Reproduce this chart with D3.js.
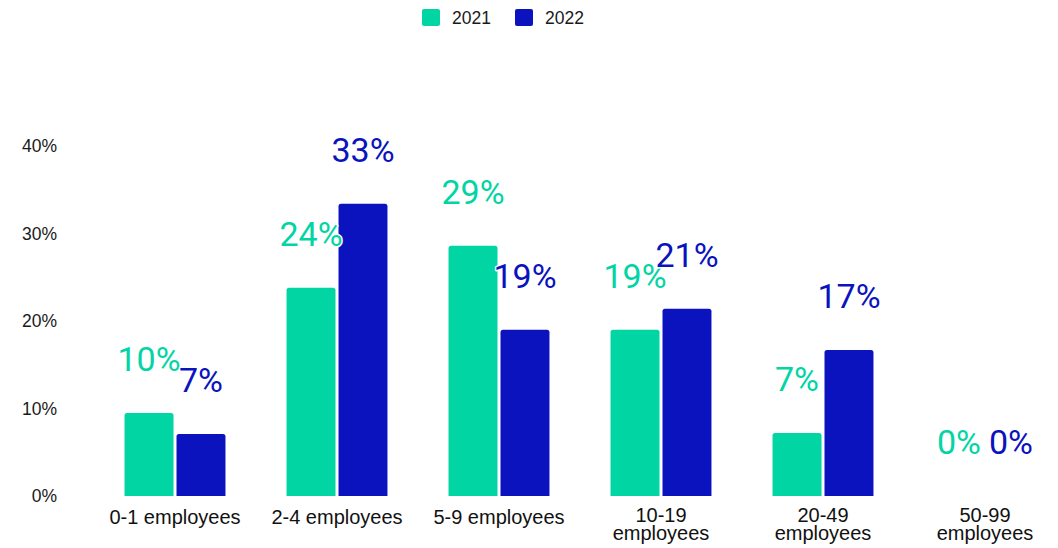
<!DOCTYPE html>
<html>
<head>
<meta charset="utf-8">
<script src="https://cdn.jsdelivr.net/npm/d3@7"></script>
<style>
  html, body { margin: 0; padding: 0; background: #fff; }
  svg { display: block; }
</style>
</head>
<body>
<svg id="chart" width="1058" height="548"></svg>
<script>
// Share of businesses by headcount band, 2021 vs 2022 (percent)
const categories = ["0-1 employees", "2-4 employees", "5-9 employees", "10-19 employees", "20-49 employees", "50-99 employees"];
const seriesNames = ["2021", "2022"];
const values2021 = [9.5, 23.8, 28.6, 19.0, 7.2, 0];
const values2022 = [7.1, 33.4, 19.0, 21.4, 16.7, 0];
const yTicks = [0, 10, 20, 30, 40];
const colors = ["#02d5a4", "#0a13bd"];

const seriesValues = [values2021, values2022];
const rows = categories.map((c, i) => ({
  category: c,
  items: seriesNames.map((s, k) => ({ series: s, value: seriesValues[k][i], color: colors[k] }))
}));

const svg = d3.select("#chart");
const axisFont = "'Liberation Sans', Arial, Helvetica, sans-serif";

const y = d3.scaleLinear().domain([0, 40]).range([496, 146]);

const x = d3.scaleBand()
  .domain(categories)
  .range([94, 1066])
  .paddingInner(0.377)
  .paddingOuter(0.1885);

const xInner = d3.scaleBand()
  .domain(seriesNames)
  .range([0, x.bandwidth()])
  .paddingInner(0.0577);

// Y axis: labels only, no domain line or tick marks
const yAxis = svg.append("g")
  .attr("transform", "translate(57,0)")
  .call(d3.axisLeft(y).tickValues(yTicks).tickFormat(d => d + "%").tickSize(0).tickPadding(0));
yAxis.select(".domain").remove();
yAxis.selectAll("text")
  .attr("font-family", axisFont)
  .attr("font-size", "17.5px")
  .attr("fill", "#1a1a1a");

// X axis: category labels, wrapped onto two lines when too wide
const xAxis = svg.append("g")
  .attr("transform", "translate(0,496)")
  .call(d3.axisBottom(x).tickSize(0).tickPadding(0));
xAxis.select(".domain").remove();
xAxis.selectAll("text")
  .attr("font-family", axisFont)
  .attr("font-size", "20px")
  .attr("fill", "#111")
  .attr("dy", null)
  .attr("y", 28)
  .each(function (d) {
    const t = d3.select(this);
    if (this.getComputedTextLength() > 142) {
      const words = d.split(" ");
      t.text(null);
      t.append("tspan").attr("x", 0).attr("y", 26).text(words[0]);
      t.append("tspan").attr("x", 0).attr("y", 44).text(words.slice(1).join(" "));
    }
  });

// Bars with slightly rounded top corners
function barPath(x0, w, yTop, yBase, r) {
  const h = yBase - yTop;
  if (h <= 0) return "";
  const rr = Math.min(r, h, w / 2);
  return `M${x0},${yBase}V${yTop + rr}Q${x0},${yTop} ${x0 + rr},${yTop}` +
         `H${x0 + w - rr}Q${x0 + w},${yTop} ${x0 + w},${yTop + rr}V${yBase}Z`;
}

const groups = svg.append("g").selectAll("g")
  .data(rows)
  .join("g")
  .attr("transform", d => `translate(${x(d.category)},0)`);

groups.selectAll("path")
  .data(d => d.items)
  .join("path")
  .attr("d", d => barPath(xInner(d.series), xInner.bandwidth(), y(d.value), y(0), 2.5))
  .attr("fill", d => d.color);

// Value labels above each bar, with a white halo
groups.selectAll("text.value")
  .data(d => d.items)
  .join("text")
  .attr("class", "value")
  .attr("x", d => xInner(d.series) + xInner.bandwidth() / 2)
  .attr("y", d => y(d.value) - 42)
  .attr("text-anchor", "middle")
  .attr("font-family", "Roboto, 'Noto Sans', sans-serif")
  .attr("font-size", "34px")
  .attr("fill", d => d.color)
  .attr("stroke", "#fff")
  .attr("stroke-width", 3)
  .attr("paint-order", "stroke")
  .attr("stroke-linejoin", "round")
  .text(d => d3.format(".0f")(d.value) + "%");

// Legend
const legendPos = [422, 515];
const legend = svg.append("g").selectAll("g")
  .data(seriesNames)
  .join("g")
  .attr("transform", (d, i) => `translate(${legendPos[i]},9)`);
legend.append("rect")
  .attr("width", 18).attr("height", 17).attr("rx", 2)
  .attr("fill", (d, i) => colors[i]);
legend.append("text")
  .attr("x", 30).attr("y", 14.5)
  .attr("font-family", axisFont)
  .attr("font-size", "17.5px")
  .attr("fill", "#1a1a1a")
  .text(d => d);
</script>
</body>
</html>
